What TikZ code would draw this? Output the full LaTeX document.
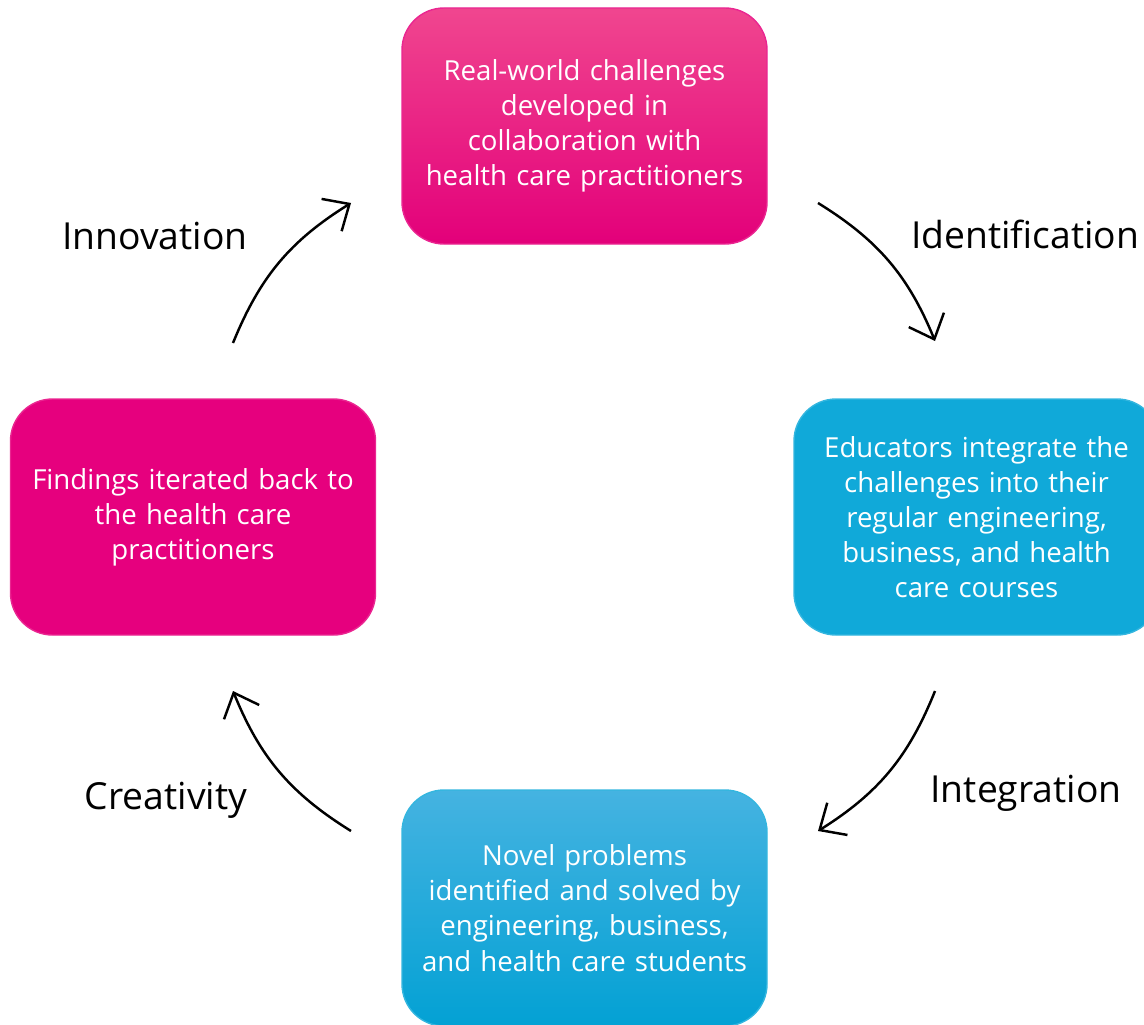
\documentclass[tikz,border=0pt]{standalone}
\usepackage{fontspec}
\setmainfont{Open Sans}
\usetikzlibrary{arrows.meta}

\definecolor{PinkTop}{HTML}{F0468F}
\definecolor{PinkMid}{HTML}{EA0A82}
\definecolor{PinkBot}{HTML}{E3007A}
\definecolor{Pink}{HTML}{E6007E}
\definecolor{Blue}{HTML}{10A9D9}
\definecolor{BlueTop}{HTML}{45B3E1}
\definecolor{BlueMid}{HTML}{00AAE0}
\definecolor{BlueBot}{HTML}{03A1D4}

\begin{document}
\begin{tikzpicture}[StepBox/.style={minimum height=2.36cm, minimum width=3.65cm, align=center, text width=3.4cm, rounded corners=0.42cm, draw=#1!85!white, thin, text=white, font=\fontsize{7.85}{10}\selectfont},
StageLabel/.style={font=\fontsize{10.6}{13}\selectfont, text=black},
CycleArrow/.style={-{Straight Barb[length=2.1mm, width=3.8mm]}, line width=0.7pt, black}]

\useasboundingbox (0,0) rectangle (11.44,10.24);
\clip (0,0) rectangle (11.44,10.24);

\node[StepBox=Pink, top color=PinkTop, middle color=PinkMid, bottom color=PinkBot] (challenges) at (5.845,8.98) {Real-world challenges\\ developed in\\ collaboration with\\ health care practitioners};
\node[StepBox=Blue, fill=Blue] (educators) at (9.765,5.07) {Educators integrate the\\ challenges into their\\ regular engineering,\\ business, and health\\ care courses};
\node[StepBox=Blue, top color=BlueTop, middle color=BlueMid, bottom color=BlueBot] (problems) at (5.845,1.16) {Novel problems\\ identified and solved by\\ engineering, business,\\ and health care students};
\node[StepBox=Pink, fill=Pink] (findings) at (1.93,5.07) {Findings iterated back to\\ the health care\\ practitioners};

\node[StageLabel] (innovation) at (1.55,7.88) {Innovation};
\node[StageLabel] (identification) at (10.25,7.90) {Identification};
\node[StageLabel] (integration) at (10.26,2.31) {Integration};
\node[StageLabel] (creativity) at (1.66,2.24) {Creativity};

\coordinate (identStart) at (8.18,8.21);
\coordinate (identEnd) at (9.35,6.83);
\coordinate (integStart) at (9.35,3.33);
\coordinate (integEnd) at (8.18,1.93);
\coordinate (creatStart) at (3.51,1.93);
\coordinate (creatEnd) at (2.33,3.33);
\coordinate (innovStart) at (2.33,6.81);
\coordinate (innovEnd) at (3.51,8.21);

\draw[CycleArrow] (identStart) to[bend left=18] (identEnd);
\draw[CycleArrow] (integStart) to[bend left=18] (integEnd);
\draw[CycleArrow] (creatStart) to[bend left=18] (creatEnd);
\draw[CycleArrow] (innovStart) to[bend left=18] (innovEnd);

\end{tikzpicture}
\end{document}
